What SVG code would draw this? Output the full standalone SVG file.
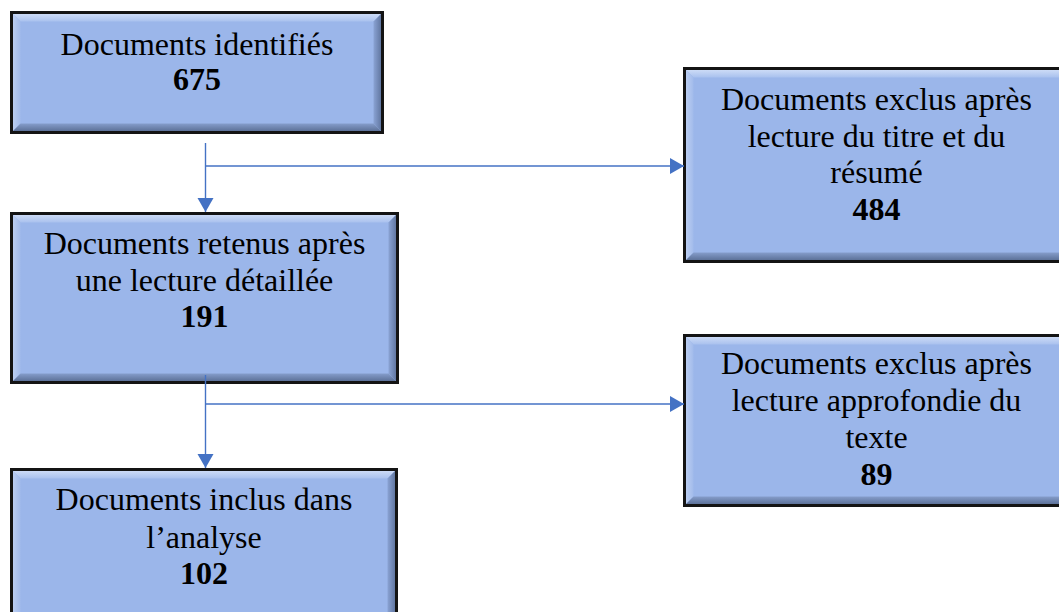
<svg xmlns="http://www.w3.org/2000/svg" width="1059" height="612" viewBox="0 0 1059 612">
<style>
  .face { fill: #9bb6ea; }
  .top { fill: url(#gTop); }
  .left { fill: url(#gLeft); }
  .right { fill: url(#gRight); }
  .bottom { fill: url(#gBottom); }
  .frame { fill: none; stroke: #141414; stroke-width: 3; }
  .t { font-family: "Liberation Serif", "Times New Roman", serif; font-size: 32px; fill: #000; text-anchor: middle; }
  .n { font-weight: bold; }
  .conn { fill: none; stroke: #4472c4; stroke-width: 1.4; }
</style>
<defs>
  <linearGradient id="gTop" x1="0" y1="0" x2="0" y2="1">
    <stop offset="0" stop-color="#d3e0f8"/>
    <stop offset="1" stop-color="#a9c1ee"/>
  </linearGradient>
  <linearGradient id="gLeft" x1="0" y1="0" x2="1" y2="0">
    <stop offset="0" stop-color="#c0d2f4"/>
    <stop offset="1" stop-color="#a2bbeb"/>
  </linearGradient>
  <linearGradient id="gRight" x1="0" y1="0" x2="1" y2="0">
    <stop offset="0" stop-color="#8aa3d4"/>
    <stop offset="1" stop-color="#5a6f98"/>
  </linearGradient>
  <linearGradient id="gBottom" x1="0" y1="0" x2="0" y2="1">
    <stop offset="0" stop-color="#859dcb"/>
    <stop offset="1" stop-color="#55698f"/>
  </linearGradient>
  <marker id="arrow" markerUnits="userSpaceOnUse" markerWidth="15" markerHeight="17" refX="14" refY="8" orient="auto">
    <path d="M0,0 L14,8 L0,16 Z" fill="#4472c4"/>
  </marker>
</defs>

<g id="node-identifies">
  <rect class="face" x="11.5" y="12.5" width="371" height="120"/>
  <polygon class="top" points="11.5,12.5 382.5,12.5 373.5,21.5 20.5,21.5"/>
  <polygon class="left" points="11.5,12.5 20.5,21.5 20.5,123.5 11.5,132.5"/>
  <polygon class="right" points="382.5,12.5 382.5,132.5 373.5,123.5 373.5,21.5"/>
  <polygon class="bottom" points="11.5,132.5 20.5,123.5 373.5,123.5 382.5,132.5"/>
  <rect class="frame" x="11.5" y="12.5" width="371" height="120"/>
  <text class="t" x="197" y="55">Documents identifiés</text>
  <text class="t n" x="197" y="90">675</text>
</g>

<g id="node-retenus">
  <rect class="face" x="11.5" y="213.5" width="386" height="169"/>
  <polygon class="top" points="11.5,213.5 397.5,213.5 388.5,222.5 20.5,222.5"/>
  <polygon class="left" points="11.5,213.5 20.5,222.5 20.5,373.5 11.5,382.5"/>
  <polygon class="right" points="397.5,213.5 397.5,382.5 388.5,373.5 388.5,222.5"/>
  <polygon class="bottom" points="11.5,382.5 20.5,373.5 388.5,373.5 397.5,382.5"/>
  <rect class="frame" x="11.5" y="213.5" width="386" height="169"/>
  <text class="t" x="204.5" y="254">Documents retenus après</text>
  <text class="t" x="204.5" y="290.5">une lecture détaillée</text>
  <text class="t n" x="204.5" y="327">191</text>
</g>

<g id="node-inclus">
  <rect class="face" x="11.5" y="469.5" width="385" height="170"/>
  <polygon class="top" points="11.5,469.5 396.5,469.5 387.5,478.5 20.5,478.5"/>
  <polygon class="left" points="11.5,469.5 20.5,478.5 20.5,630.5 11.5,639.5"/>
  <polygon class="right" points="396.5,469.5 396.5,639.5 387.5,630.5 387.5,478.5"/>
  <rect class="frame" x="11.5" y="469.5" width="385" height="170"/>
  <text class="t" x="204" y="510">Documents inclus dans</text>
  <text class="t" x="204" y="548">l’analyse</text>
  <text class="t n" x="204" y="584">102</text>
</g>

<g id="node-exclus-titre">
  <rect class="face" x="684.5" y="68.5" width="390" height="193"/>
  <polygon class="top" points="684.5,68.5 1074.5,68.5 1065.5,77.5 693.5,77.5"/>
  <polygon class="left" points="684.5,68.5 693.5,77.5 693.5,252.5 684.5,261.5"/>
  <polygon class="bottom" points="684.5,261.5 693.5,252.5 1065.5,252.5 1074.5,261.5"/>
  <rect class="frame" x="684.5" y="68.5" width="390" height="193"/>
  <text class="t" x="876.5" y="110">Documents exclus après</text>
  <text class="t" x="876.5" y="147">lecture du titre et du</text>
  <text class="t" x="876.5" y="183">résumé</text>
  <text class="t n" x="876.5" y="220">484</text>
</g>

<g id="node-exclus-texte">
  <rect class="face" x="684.5" y="335.5" width="390" height="170"/>
  <polygon class="top" points="684.5,335.5 1074.5,335.5 1065.5,344.5 693.5,344.5"/>
  <polygon class="left" points="684.5,335.5 693.5,344.5 693.5,496.5 684.5,505.5"/>
  <polygon class="bottom" points="684.5,505.5 693.5,496.5 1065.5,496.5 1074.5,505.5"/>
  <rect class="frame" x="684.5" y="335.5" width="390" height="170"/>
  <text class="t" x="876.5" y="374">Documents exclus après</text>
  <text class="t" x="876.5" y="411">lecture approfondie du</text>
  <text class="t" x="876.5" y="448">texte</text>
  <text class="t n" x="876.5" y="485">89</text>
</g>

<g id="connectors">
  <path class="conn" d="M205.5,143 L205.5,212" marker-end="url(#arrow)"/>
  <path class="conn" d="M205.5,166 L684,166" marker-end="url(#arrow)"/>
  <path class="conn" d="M205.5,375 L205.5,468" marker-end="url(#arrow)"/>
  <path class="conn" d="M205.5,404 L684,404" marker-end="url(#arrow)"/>
</g>
</svg>
